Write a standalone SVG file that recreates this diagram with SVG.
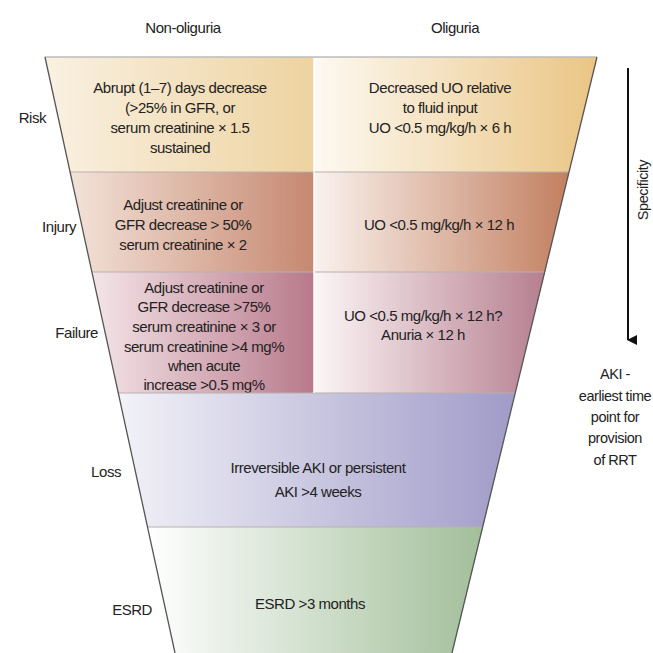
<svg xmlns="http://www.w3.org/2000/svg" width="653" height="653" viewBox="0 0 653 653">
<style>
text{font-family:"Liberation Sans",Arial,sans-serif;font-size:15px;fill:#222;letter-spacing:-0.45px}
.c{text-anchor:middle}
.e{text-anchor:end}
.s{font-size:14.5px}
.edge{stroke:#555;stroke-width:1.3;fill:none}
.sep{stroke:#b9b0ad;stroke-width:1.2;fill:none}
</style>
<defs>
<linearGradient id="gRL" x1="0" y1="0" x2="1" y2="0"><stop offset="0" stop-color="#faf1e2"/><stop offset="1" stop-color="#edd3a0"/></linearGradient>
<linearGradient id="gRR" x1="0" y1="0" x2="1" y2="0"><stop offset="0" stop-color="#fdf9f2"/><stop offset="1" stop-color="#eac584"/></linearGradient>
<linearGradient id="gIL" x1="0" y1="0" x2="1" y2="0"><stop offset="0" stop-color="#f3e2d8"/><stop offset="1" stop-color="#c68870"/></linearGradient>
<linearGradient id="gIR" x1="0" y1="0" x2="1" y2="0"><stop offset="0" stop-color="#faf2ee"/><stop offset="1" stop-color="#c27f60"/></linearGradient>
<linearGradient id="gFL" x1="0" y1="0" x2="1" y2="0"><stop offset="0" stop-color="#f4e5e8"/><stop offset="1" stop-color="#b8798b"/></linearGradient>
<linearGradient id="gFR" x1="0" y1="0" x2="1" y2="0"><stop offset="0" stop-color="#fcf6f7"/><stop offset="1" stop-color="#b67f90"/></linearGradient>
<linearGradient id="gL" x1="0" y1="0" x2="1" y2="0"><stop offset="0" stop-color="#f2f2f8"/><stop offset="1" stop-color="#a09bc8"/></linearGradient>
<linearGradient id="gE" x1="0" y1="0" x2="1" y2="0"><stop offset="0" stop-color="#ffffff"/><stop offset="1" stop-color="#a2bf9a"/></linearGradient>
<marker id="arr" viewBox="0 0 10 10" refX="5" refY="9" markerWidth="10" markerHeight="12" markerUnits="userSpaceOnUse" orient="auto-start-reverse"><path d="M0,0 L10,0 L5,10 Z" fill="#111"/></marker>
</defs>

<text class="c" x="183" y="33">Non-oliguria</text>
<text class="c" x="455" y="33">Oliguria</text>

<g id="risk">
<polygon points="45,57 314,57 314,172 70,172" fill="url(#gRL)"/>
<polygon points="314,57 597,57 569,172 314,172" fill="url(#gRR)"/>
<text class="e" x="46" y="123">Risk</text>
<text class="c" x="180" y="93">Abrupt (1–7) days decrease</text>
<text class="c" x="180" y="113">(&gt;25% in GFR, or</text>
<text class="c" x="180" y="133">serum creatinine × 1.5</text>
<text class="c" x="180" y="153">sustained</text>
<text class="c" x="440" y="93">Decreased UO relative</text>
<text class="c" x="440" y="113">to fluid input</text>
<text class="c" x="440" y="133">UO &lt;0.5 mg/kg/h × 6 h</text>
</g>

<g id="injury">
<polygon points="70,172 314,172 314,272 92,272" fill="url(#gIL)"/>
<polygon points="314,172 569,172 545,272 314,272" fill="url(#gIR)"/>
<text class="e" x="76" y="232">Injury</text>
<text class="c" x="183" y="210">Adjust creatinine or</text>
<text class="c" x="183" y="230">GFR decrease &gt; 50%</text>
<text class="c" x="183" y="250">serum creatinine × 2</text>
<text class="c" x="439" y="230">UO &lt;0.5 mg/kg/h × 12 h</text>
</g>

<g id="failure">
<polygon points="92,272 314,272 314,393 118,393" fill="url(#gFL)"/>
<polygon points="314,272 545,272 515,393 314,393" fill="url(#gFR)"/>
<text class="e" x="98" y="338">Failure</text>
<text class="c" x="204" y="293">Adjust creatinine or</text>
<text class="c" x="204" y="312">GFR decrease &gt;75%</text>
<text class="c" x="204" y="332">serum creatinine × 3 or</text>
<text class="c" x="204" y="352">serum creatinine &gt;4 mg%</text>
<text class="c" x="204" y="371">when acute</text>
<text class="c" x="204" y="390">increase &gt;0.5 mg%</text>
<text class="c" x="423" y="321">UO &lt;0.5 mg/kg/h × 12 h?</text>
<text class="c" x="423" y="340">Anuria × 12 h</text>
</g>

<g id="loss">
<polygon points="118,393 515,393 483,527 147,527" fill="url(#gL)"/>
<text class="e" x="121" y="477">Loss</text>
<text class="c" x="318" y="473">Irreversible AKI or persistent</text>
<text class="c" x="318" y="497">AKI &gt;4 weeks</text>
</g>

<g id="esrd">
<polygon points="147,527 483,527 452,653 175,653" fill="url(#gE)"/>
<text class="e" x="152" y="615">ESRD</text>
<text class="c" x="310" y="609">ESRD &gt;3 months</text>
</g>

<g id="connectors">
<line class="sep" x1="70" y1="172" x2="569" y2="172"/>
<line class="sep" x1="92" y1="272" x2="545" y2="272"/>
<line class="sep" x1="118" y1="393" x2="515" y2="393"/>
<line class="sep" x1="147" y1="527" x2="483" y2="527"/>
<line x1="314" y1="57" x2="314" y2="393" stroke="#fff" stroke-width="1.5"/>
<line x1="45" y1="57" x2="597" y2="57" stroke="#bbb" stroke-width="1.3"/>
<line class="edge" x1="45" y1="57" x2="175" y2="653"/>
<line class="edge" x1="597" y1="57" x2="452" y2="653"/>
<line x1="628" y1="68" x2="628" y2="340" stroke="#111" stroke-width="2" marker-end="url(#arr)"/>
</g>

<g id="side">
<text class="c s" transform="translate(648,190) rotate(-90)">Specificity</text>
<text class="c s" x="615" y="379">AKI -</text>
<text class="c s" x="615" y="401">earliest time</text>
<text class="c s" x="615" y="422">point for</text>
<text class="c s" x="615" y="443">provision</text>
<text class="c s" x="615" y="465">of RRT</text>
</g>
</svg>
